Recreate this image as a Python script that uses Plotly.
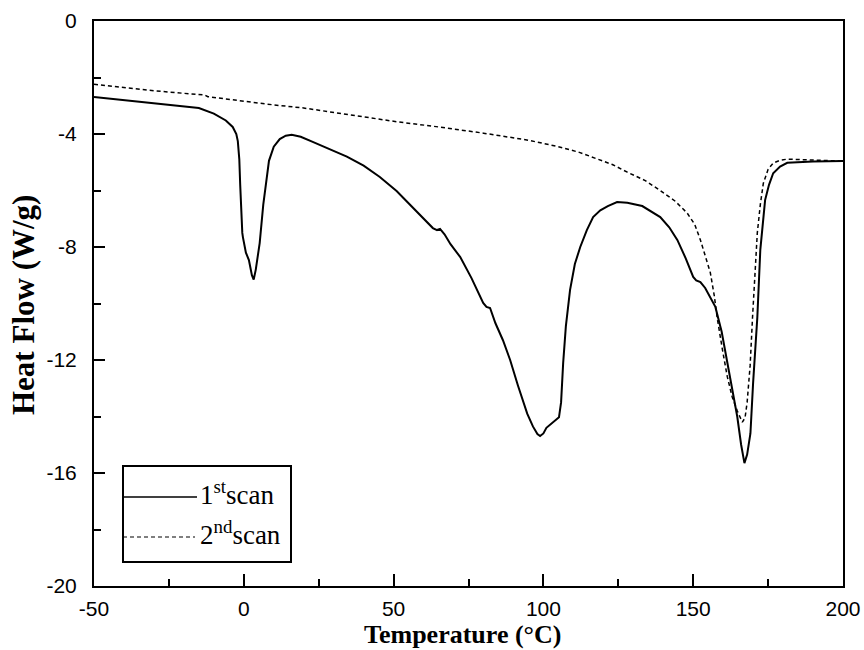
import plotly.graph_objects as go

# ---- data ----
scan1_T = [-50, -40, -30, -20, -15, -10, -8, -6, -3.7, -2.5, -2.0, -1.5, -1.2, -0.9, -0.5, -0.3,
           0.7, 1.7, 2.7, 3.3, 4.0, 5.3, 6.5, 8.4, 10, 12, 14, 16, 19, 23, 28.5, 34.4, 40, 45.4,
           51, 56.5, 60, 63.1, 64.5, 65.5, 67, 69, 72.2, 76, 79.9, 81, 82.2, 84, 86.5, 88.9,
           91.5, 94.6, 96.5, 98, 98.9, 100, 101, 102.2, 104, 105.2, 105.9, 106.6, 107.5, 108.9,
           110.5, 112.3, 114.5, 116.6, 119, 121.5, 124.6, 128, 133, 139, 142, 144.7, 147.5, 150,
           151, 152.4, 154, 155.5, 157.4, 159.5, 161.4, 163, 164.7, 166, 167.1, 168, 169.1, 170,
           171.4, 172.4, 174, 175.3, 176.7, 179, 181.4, 190, 200]
scan1_HF = [-2.69, -2.80, -2.90, -3.00, -3.08, -3.28, -3.40, -3.52, -3.75, -4.0, -4.25, -4.9, -5.8,
            -6.8, -7.5, -7.65, -8.2, -8.46, -9.0, -9.15, -8.8, -7.86, -6.5, -4.95, -4.45, -4.18,
            -4.06, -4.03, -4.1, -4.28, -4.52, -4.8, -5.12, -5.52, -6.02, -6.62, -7.0, -7.33, -7.4,
            -7.36, -7.55, -7.9, -8.35, -9.1, -9.98, -10.12, -10.16, -10.7, -11.3, -12.0, -12.9,
            -13.9, -14.35, -14.62, -14.69, -14.6, -14.4, -14.3, -14.15, -14.03, -13.5, -12.1,
            -10.8, -9.52, -8.6, -8.0, -7.4, -6.94, -6.7, -6.55, -6.41, -6.43, -6.55, -6.94, -7.3,
            -7.75, -8.4, -9.06, -9.18, -9.24, -9.45, -9.75, -10.12, -11.0, -12.1, -13.0, -14.0,
            -15.0, -15.65, -15.35, -14.6, -12.8, -10.5, -8.1, -6.34, -5.8, -5.39, -5.15, -5.02,
            -4.97, -4.96]

scan2_T = [-50, -40, -30, -20, -13, -12, 0, 10, 20, 30, 40, 50, 65, 80, 95, 105, 112, 117, 123,
           128, 134, 139, 144, 148, 150.5, 152.4, 154, 155.7, 157, 158, 159.7, 161.4, 163, 164.7,
           166.4, 167.3, 168, 169, 169.8, 170.6, 171.4, 172.4, 173.4, 175, 176.7, 179, 181.4,
           190, 200]
scan2_HF = [-2.24, -2.36, -2.47, -2.56, -2.62, -2.68, -2.85, -2.97, -3.08, -3.24, -3.40, -3.55,
            -3.75, -3.97, -4.22, -4.45, -4.65, -4.85, -5.08, -5.35, -5.65, -6.0, -6.38, -6.8,
            -7.2, -7.75, -8.3, -8.9, -9.7, -10.5, -11.6, -12.6, -13.3, -13.8, -14.2, -14.05,
            -13.5, -12.2, -10.5, -8.9, -7.5, -6.5, -5.75, -5.25, -5.03, -4.93, -4.89, -4.92,
            -4.96]

series_names = ["1<sup>st</sup>scan", "2<sup>nd</sup>scan"]
x_ticks = [-50, 0, 50, 100, 150, 200]
x_ticktext = ["-50", "0", "50", "100", "150", "200"]
y_ticks = [0, -4, -8, -12, -16, -20]
y_ticktext = ["0", "-4", "-8", "-12", "-16", "-20"]
x_title = "<b>Temperature (°C)</b>"
y_title = "<b>Heat Flow (W/g)</b>"

# ---- layout geometry (pixels) ----
W, H = 864, 650
L, R, T, B = 94, 21, 21, 64
pw, ph = W - L - R, H - T - B


def px(xp):
    return (xp - L) / pw


def py(yp):
    return (H - B - yp) / ph


fig = go.Figure()
fig.add_trace(go.Scatter(x=scan1_T, y=scan1_HF, mode="lines", name=series_names[0],
                         line=dict(color="black", width=2), showlegend=False))
fig.add_trace(go.Scatter(x=scan2_T, y=scan2_HF, mode="lines", name=series_names[1],
                         line=dict(color="black", width=1.5, dash="4px,3px"), showlegend=False))

serif = "Liberation Serif, Times New Roman, serif"
sans = "Liberation Sans, Arial, sans-serif"

fig.update_layout(
    width=W, height=H,
    margin=dict(l=L, r=R, t=T, b=B, autoexpand=False),
    paper_bgcolor="white", plot_bgcolor="white",
    xaxis=dict(range=[-50, 200], tickvals=x_ticks, ticktext=x_ticktext, ticks="inside",
               ticklen=12, tickwidth=2, automargin=False,
               tickcolor="black", showline=True, linewidth=2, linecolor="black", mirror=True,
               showgrid=False, zeroline=False, ticklabelstandoff=3,
               tickfont=dict(family=sans, size=21, color="black"),
               minor=dict(dtick=25, ticks="inside", ticklen=7, tickwidth=2, tickcolor="black",
                          showgrid=False)),
    yaxis=dict(range=[-20, 0], tickvals=y_ticks, ticktext=y_ticktext, ticks="inside",
               ticklen=11, tickwidth=2, automargin=False,
               tickcolor="black", showline=True, linewidth=2, linecolor="black", mirror=True,
               showgrid=False, zeroline=False, ticklabelstandoff=11,
               tickfont=dict(family=sans, size=21, color="black"),
               minor=dict(dtick=2, ticks="inside", ticklen=7, tickwidth=2, tickcolor="black",
                          showgrid=False)),
)

# axis titles
fig.add_annotation(xref="paper", yref="paper", x=px(462), y=py(634), xanchor="center",
                   yanchor="middle", text=x_title, showarrow=False,
                   font=dict(family=serif, size=26, color="black"))
fig.add_annotation(xref="paper", yref="paper", x=px(24), y=py(305), xanchor="center",
                   yanchor="middle", text=y_title, showarrow=False, textangle=-90,
                   font=dict(family=serif, size=31, color="black"))

# legend box drawn by hand
fig.add_shape(type="rect", xref="paper", yref="paper", x0=px(123), x1=px(291), y0=py(562),
              y1=py(466), line=dict(color="black", width=2), fillcolor="white", layer="above")
fig.add_shape(type="line", xref="paper", yref="paper", x0=px(123), x1=px(197), y0=py(497),
              y1=py(497), line=dict(color="black", width=1.5))
fig.add_shape(type="line", xref="paper", yref="paper", x0=px(123), x1=px(195), y0=py(537),
              y1=py(537), line=dict(color="black", width=1.2, dash="4px,3px"))
for name, yy in zip(series_names, [493, 533]):
    fig.add_annotation(xref="paper", yref="paper", x=px(198), y=py(yy), xanchor="left",
                       yanchor="middle", text=name, showarrow=False,
                       font=dict(family=serif, size=27, color="black"))

fig.write_html("out.html")
